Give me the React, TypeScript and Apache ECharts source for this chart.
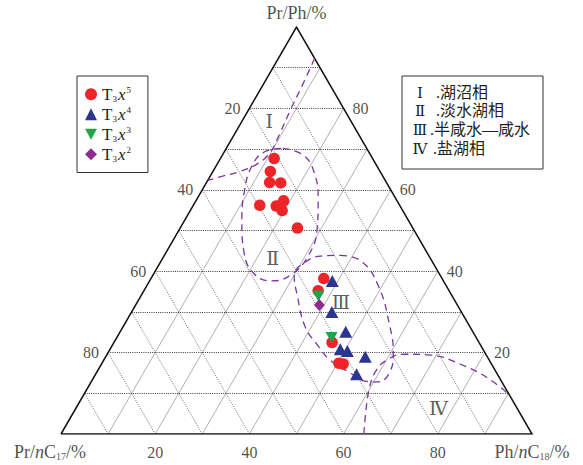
import React, { useEffect, useRef } from 'react';
import * as echarts from 'echarts';

// Sample groups (legend names: T3x5 = T₃x⁵ ...)
const seriesNames = ['T3x5', 'T3x4', 'T3x3', 'T3x2'];

// Each point: [Pr/Ph, Pr/nC17, Ph/nC18] in %
const t3x5 = [
  [67.7, 20.9, 11.4],
  [64.5, 23.3, 12.2],
  [61.8, 24.8, 13.4],
  [61.7, 22.5, 15.8],
  [56.2, 29.7, 14.1],
  [56.0, 26.3, 17.7],
  [57.3, 24.1, 18.6],
  [54.9, 25.6, 19.5],
  [50.6, 24.5, 24.9],
  [38.2, 25.1, 36.7],
  [35.2, 27.8, 37.0],
  [22.5, 31.2, 46.3],
  [17.4, 32.3, 50.3],
  [17.2, 31.5, 51.3],
];
const t3x4 = [
  [37.6, 23.6, 38.8],
  [30.0, 27.5, 42.5],
  [25.1, 27.0, 47.9],
  [20.8, 30.3, 48.9],
  [20.4, 29.0, 50.6],
  [19.0, 25.9, 55.1],
  [14.7, 29.9, 55.4],
];
const t3x3 = [
  [33.9, 28.4, 37.7],
  [23.7, 30.7, 45.6],
];
const t3x2 = [[31.7, 29.3, 39.0]];

const tickValues = [20, 40, 60, 80];
const gridSteps = [10, 20, 30, 40, 50, 60, 70, 80, 90];

// Facies boundaries, points as [Pr/Ph, Ph/nC18] in %
const boundaryI = [
  [92.3, 7.7], [85.6, 8.4], [79.5, 8.9], [73.4, 9.6], [69.2, 9.8],
  [66.5, 8.6], [64.5, 5.7], [63.3, 2.5], [62.3, 0],
];
const boundaryII = [
  [70.2, 12.0], [68.5, 17.2], [64.3, 21.6], [57.4, 25.9], [50.1, 29.3],
  [43.7, 30.6], [39.3, 29.4], [37.6, 26.0], [39.3, 21.4], [44.7, 16.5],
  [52.0, 12.4], [59.4, 9.2], [66.0, 7.6], [69.5, 8.8], [70.2, 12.0],
];
const boundaryIII = [
  [43.9, 37.3], [42.7, 42.1], [36.6, 49.0], [26.3, 56.7], [19.9, 60.6],
  [15.2, 62.2], [12.8, 60.9], [13.0, 58.0], [15.0, 53.9], [18.2, 48.0],
  [21.8, 43.6], [26.3, 38.7], [34.1, 33.1], [39.0, 30.0], [42.2, 30.7],
  [43.7, 33.2], [43.9, 37.3],
];
const boundaryIV = [
  [0, 64.3], [5.9, 61.8], [10.8, 60.0], [15.2, 59.1], [18.2, 60.1],
  [19.6, 63.2], [19.4, 68.7], [17.2, 76.1], [13.7, 83.8], [9.6, 90.4],
];

const regionNames = ['Ⅰ', 'Ⅱ', 'Ⅲ', 'Ⅳ'];
const regionPos = [[77.0, 5.7], [43.3, 23.3], [32.5, 43.2], [6.3, 77.0]];

const faciesNumerals = ['Ⅰ', 'Ⅱ', 'Ⅲ', 'Ⅳ'];
const faciesNames = ['.湖沼相', '.淡水湖相', '.半咸水—咸水', '.盐湖相'];

const RED = '#ee2429';
const BLUE = '#2c358f';
const GREEN = '#22a24b';
const PURPLE = '#8e2b8f';
const CURVE = '#7b35a0';
const INK = '#231f20';
const SERIF = "'Liberation Serif', 'Times New Roman', serif";
const NUMERAL = "'DejaVu Serif', 'Liberation Serif', serif";
const BOXFONT = "'Liberation Serif', 'Noto Sans CJK SC', sans-serif";

// ternary (Pr/Ph = top, Ph/nC18 = bottom right) -> plane coordinates
const toXY = (prph: number, phc18: number) => [phc18 + prph / 2, prph];

export default function App() {
  const ref = useRef<HTMLDivElement>(null);

  useEffect(() => {
    if (!ref.current) return;
    const chart = echarts.init(ref.current, undefined, { renderer: 'svg' });

    const gridLine = (coords: number[][]) => ({ coords });
    const horiz = gridSteps.map((k) => gridLine([toXY(k, 0), toXY(k, 100 - k)]));
    const parRight = gridSteps.map((k) => gridLine([toXY(0, 100 - k), toXY(100 - k, 0)]));
    const parLeft = gridSteps.map((k) => gridLine([toXY(0, k), toXY(100 - k, k)]));

    const curve = (pts: number[][]) => ({
      type: 'line',
      data: pts.map((p) => toXY(p[0], p[1])),
      smooth: 0.45,
      showSymbol: false,
      symbol: 'none',
      silent: true,
      z: 3,
      lineStyle: { color: CURVE, width: 1.3, type: [7, 5] },
    });

    const pointSeries = (name: string, data: number[][], symbol: string, size: any, color: string) => ({
      type: 'scatter',
      name,
      data: data.map((p) => toXY(p[0], p[2])),
      symbol,
      symbolSize: size,
      itemStyle: { color, opacity: 1 },
      z: 5,
    });

    const labelSeries = (data: any[], label: any) => ({
      type: 'scatter',
      data,
      symbolSize: 0,
      silent: true,
      z: 4,
      label: { show: true, formatter: '{b}', color: INK, fontFamily: SERIF, fontSize: 16, ...label },
    });

    const richAxis = {
      t: { fontFamily: SERIF, fontSize: 18, color: INK },
      i: { fontFamily: SERIF, fontSize: 18, fontStyle: 'italic', color: INK },
      s: { fontFamily: SERIF, fontSize: 10, color: INK, verticalAlign: 'bottom', lineHeight: 8 },
    };

    const lineMid = [92.5, 111.2, 129.9, 148.6];
    const nameLeft = [436, 436, 430, 433];
    const boxTexts: any[] = [];
    faciesNumerals.forEach((n, i) => {
      boxTexts.push({
        type: 'text',
        x: 420,
        y: lineMid[i],
        style: {
          text: n, fontFamily: NUMERAL, fontSize: 15, lineHeight: 17, fill: INK,
          textAlign: 'center', textVerticalAlign: 'middle',
        },
      });
      boxTexts.push({
        type: 'text',
        x: nameLeft[i],
        y: lineMid[i] - 0.5,
        style: {
          text: faciesNames[i], fontFamily: BOXFONT, fontSize: 16, lineHeight: 18, fill: INK,
          textAlign: 'left', textVerticalAlign: 'middle',
        },
      });
    });

    chart.setOption({
      animation: false,
      backgroundColor: '#ffffff',
      grid: { left: 61, top: 27, width: 471, height: 407 },
      xAxis: { type: 'value', min: 0, max: 100, show: false },
      yAxis: { type: 'value', min: 0, max: 100, show: false },
      legend: {
        orient: 'vertical',
        left: 77,
        top: 76,
        data: seriesNames,
        selectedMode: false,
        borderColor: '#333',
        borderWidth: 1,
        padding: [9, 17, 9, 8],
        itemWidth: 12,
        itemHeight: 12,
        itemGap: 1.5,
        formatter: (n: string) => `{t|T}{s|${n[1]}}{x|x}{p|${n[3]}}`,
        textStyle: {
          color: INK,
          rich: {
            t: { fontFamily: SERIF, fontSize: 17, color: INK, lineHeight: 18.5 },
            x: { fontFamily: SERIF, fontSize: 17, fontStyle: 'italic', color: INK, lineHeight: 18.5 },
            s: { fontFamily: SERIF, fontSize: 9, color: INK, verticalAlign: 'bottom', lineHeight: 8, padding: [0, 1, 0, 0] },
            p: { fontFamily: SERIF, fontSize: 9, color: INK, verticalAlign: 'top', lineHeight: 8, padding: [0, 0, 0, 1] },
          },
        },
      },
      graphic: [
        {
          type: 'rect',
          shape: { x: 402, y: 76, width: 141, height: 93 },
          style: { fill: '#fff', stroke: '#333', lineWidth: 1 },
          z: 10,
        },
        ...boxTexts.map((t) => ({ ...t, z: 11 })),
      ],
      series: [
        {
          type: 'lines',
          coordinateSystem: 'cartesian2d',
          silent: true,
          z: 1,
          lineStyle: { color: '#9a9a9a', width: 0.8, type: 'solid', opacity: 1 },
          data: parLeft,
        },
        {
          type: 'lines',
          coordinateSystem: 'cartesian2d',
          silent: true,
          z: 1,
          lineStyle: { color: '#444', width: 0.8, type: [1, 1.4], opacity: 1 },
          data: parRight,
        },
        {
          type: 'lines',
          coordinateSystem: 'cartesian2d',
          silent: true,
          z: 1,
          lineStyle: { color: '#222', width: 0.9, type: [1, 1.2], opacity: 1 },
          data: horiz,
        },
        {
          type: 'lines',
          coordinateSystem: 'cartesian2d',
          polyline: true,
          silent: true,
          z: 2,
          lineStyle: { color: '#111', width: 1.5, opacity: 1 },
          data: [{ coords: [toXY(0, 0), toXY(0, 100), toXY(100, 0), toXY(0, 0)] }],
        },
        curve(boundaryI),
        curve(boundaryII),
        curve(boundaryIII),
        curve(boundaryIV),
        pointSeries(seriesNames[0], t3x5, 'circle', 11.5, RED),
        pointSeries(seriesNames[1], t3x4, 'triangle', [13, 12], BLUE),
        pointSeries(seriesNames[2], t3x3, 'path://M0,0L10,0L5,9Z', [12, 11], GREEN),
        pointSeries(seriesNames[3], t3x2, 'diamond', [11, 12], PURPLE),
        // tick labels along the three edges
        labelSeries(
          tickValues.map((v) => ({ value: toXY(0, v), name: String(v) })),
          { position: 'bottom', distance: 10 }
        ),
        labelSeries(
          tickValues.map((v) => ({ value: toXY(100 - v, 0), name: String(v) })),
          { position: 'left', distance: 9 }
        ),
        labelSeries(
          tickValues.map((v) => ({ value: toXY(v, 100 - v), name: String(v) })),
          { position: 'right', distance: 9 }
        ),
        // region labels
        labelSeries(
          regionNames.map((n, i) => ({ value: toXY(regionPos[i][0], regionPos[i][1]), name: n })),
          { position: 'inside', fontSize: 19, fontFamily: NUMERAL, color: '#333' }
        ),
        // apex titles
        {
          type: 'scatter',
          symbolSize: 0,
          silent: true,
          z: 4,
          data: [
            { value: toXY(100, 0), label: { position: 'top', distance: 5, formatter: '{t|Pr/Ph/%}' } },
            { value: toXY(0, 0), label: { position: 'bottom', distance: 9, offset: [-11, 0], formatter: '{t|Pr/}{i|n}{t|C}{s|17}{t|/%}' } },
            { value: toXY(0, 100), label: { position: 'bottom', distance: 9, offset: [0, 0], formatter: '{t|Ph/}{i|n}{t|C}{s|18}{t|/%}' } },
          ],
          label: { show: true, color: INK, rich: richAxis },
        },
      ],
    });

    return () => chart.dispose();
  }, []);

  return (
    <div
      ref={ref}
      style={{ position: 'absolute', left: 0, top: 0, width: 583, height: 465, background: '#fff' }}
    />
  );
}
